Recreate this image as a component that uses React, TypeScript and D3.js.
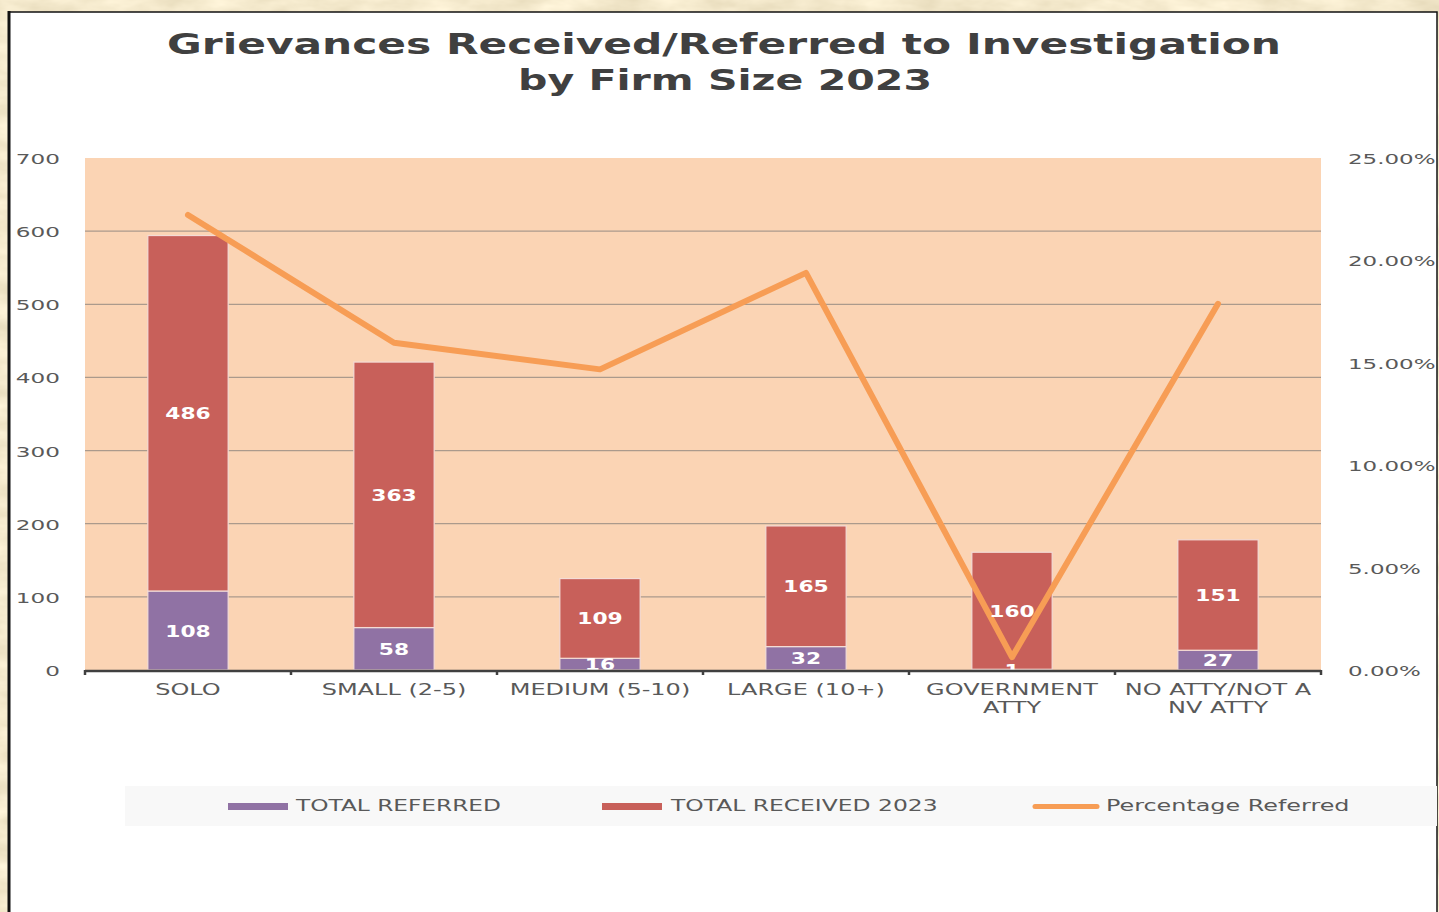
import React, { useEffect, useRef } from 'react';
import * as d3 from 'd3';

const categories = ['SOLO', 'SMALL (2-5)', 'MEDIUM (5-10)', 'LARGE (10+)', 'GOVERNMENT\nATTY', 'NO ATTY/NOT A\nNV ATTY'];
const totalReferred = [108, 58, 16, 32, 1, 27];
const totalReceived = [486, 363, 109, 165, 160, 151];
const percentReferred = [0.2222, 0.1598, 0.1468, 0.1939, 0.00625, 0.1788];
const leftTicks = [0, 100, 200, 300, 400, 500, 600, 700];
const rightTicks = [0, 0.05, 0.1, 0.15, 0.2, 0.25];
const legendItems = ['TOTAL REFERRED', 'TOTAL RECEIVED 2023', 'Percentage Referred'];

const W = 1439;
const H = 912;
const FONT = 'DejaVu Sans, Verdana, sans-serif';

// the reference font is a very wide face, so stretch DejaVu to match
function widen(sel: d3.Selection<SVGTextElement, any, any, any>, k: number) {
  sel.each(function () {
    const n = this.getComputedTextLength();
    this.setAttribute('textLength', String(n * k));
    this.setAttribute('lengthAdjust', 'spacingAndGlyphs');
  });
}

const GrievanceChart: React.FC = () => {
  const svgRef = useRef<SVGSVGElement | null>(null);

  useEffect(() => {
    const svg = d3.select(svgRef.current);
    svg.selectAll('*').remove();

    const plot = { left: 85, right: 1321, top: 158, bottom: 670 };

    // parchment background
    const defs = svg.append('defs');
    const f = defs.append('filter').attr('id', 'parch').attr('x', 0).attr('y', 0).attr('width', 1).attr('height', 1);
    f.append('feTurbulence').attr('type', 'fractalNoise').attr('baseFrequency', '0.02 0.05').attr('numOctaves', 4).attr('seed', 3);
    f.append('feColorMatrix').attr('type', 'matrix')
      .attr('values', '0.32 0 0 0 0.75  0.32 0 0 0 0.66  0.32 0 0 0 0.45  0 0 0 0 1');
    svg.append('rect').attr('width', W).attr('height', H).attr('fill', '#e6d09c').attr('filter', 'url(#parch)');

    // white panel
    svg.append('rect').attr('x', 9).attr('y', 12).attr('width', 1428).attr('height', H + 20)
      .attr('fill', '#ffffff').attr('stroke', '#111').attr('stroke-width', 1.5);
    svg.append('line').attr('x1', 9).attr('x2', 9).attr('y1', 11).attr('y2', H)
      .attr('stroke', '#111').attr('stroke-width', 3);

    // title
    const t1 = svg.append('text').attr('x', 724).attr('y', 54).attr('text-anchor', 'middle')
      .attr('font-family', FONT).attr('font-weight', 'bold').attr('font-size', 28).attr('fill', '#404040')
      .text('Grievances Received/Referred to Investigation');
    widen(t1, 1114 / (t1.node() as SVGTextElement).getComputedTextLength());
    const t2 = svg.append('text').attr('x', 725).attr('y', 90).attr('text-anchor', 'middle')
      .attr('font-family', FONT).attr('font-weight', 'bold').attr('font-size', 28).attr('fill', '#404040')
      .text('by Firm Size 2023');
    widen(t2, 414 / (t2.node() as SVGTextElement).getComputedTextLength());

    const x = d3.scaleBand<string>().domain(categories).range([plot.left, plot.right])
      .paddingInner(0.61).paddingOuter(0.305);
    const y = d3.scaleLinear().domain([0, 700]).range([plot.bottom, plot.top]);
    const y2 = d3.scaleLinear().domain([0, 0.25]).range([plot.bottom, plot.top]);

    // plot area
    svg.append('rect').attr('x', plot.left).attr('y', plot.top)
      .attr('width', plot.right - plot.left).attr('height', plot.bottom - plot.top).attr('fill', '#fbd4b4');

    svg.append('g').selectAll('line').data(leftTicks.slice(1, -1)).join('line')
      .attr('x1', plot.left).attr('x2', plot.right)
      .attr('y1', d => y(d)).attr('y2', d => y(d))
      .attr('stroke', '#ab9a8c').attr('stroke-width', 1.3);

    // stacked bars
    const rows = categories.map((c, i) => ({ cat: c, referred: totalReferred[i], received: totalReceived[i] }));
    const stack = d3.stack<any>().keys(['referred', 'received'])(rows);
    const colors: Record<string, string> = { referred: '#9072a4', received: '#c8605a' };

    const gBars = svg.append('g');
    stack.forEach(layer => {
      gBars.append('g').selectAll('rect').data(layer).join('rect')
        .attr('x', d => x(d.data.cat) as number)
        .attr('width', x.bandwidth())
        .attr('y', d => y(d[1]))
        .attr('height', d => y(d[0]) - y(d[1]))
        .attr('fill', colors[layer.key])
        .attr('stroke', '#f4dcd6').attr('stroke-width', 1.2);
    });

    // percentage line
    const line = d3.line<number>()
      .x((_, i) => (x(categories[i]) as number) + x.bandwidth() / 2)
      .y(d => y2(d));
    svg.append('path').datum(percentReferred).attr('d', line)
      .attr('fill', 'none').attr('stroke', '#f79d55').attr('stroke-width', 6)
      .attr('stroke-linejoin', 'round').attr('stroke-linecap', 'round');

    // data labels
    stack.forEach(layer => {
      const lbl = svg.append('g').selectAll('text').data(layer).join('text')
        .attr('x', d => (x(d.data.cat) as number) + x.bandwidth() / 2)
        .attr('y', d => (y(d[0]) + y(d[1])) / 2 + 1)
        .attr('text-anchor', 'middle').attr('dominant-baseline', 'central')
        .attr('font-family', FONT).attr('font-weight', 'bold').attr('font-size', 15).attr('fill', '#ffffff')
        .text(d => String(d[1] - d[0]));
      widen(lbl as any, 1.45);
    });

    // x axis
    svg.append('line').attr('x1', plot.left).attr('x2', plot.right)
      .attr('y1', plot.bottom + 1).attr('y2', plot.bottom + 1)
      .attr('stroke', '#404040').attr('stroke-width', 2.5);
    svg.append('g').selectAll('line').data(d3.range(categories.length + 1)).join('line')
      .attr('x1', i => plot.left + i * x.step()).attr('x2', i => plot.left + i * x.step())
      .attr('y1', plot.bottom).attr('y2', plot.bottom + 5)
      .attr('stroke', '#404040').attr('stroke-width', 2.5);

    const catG = svg.append('g');
    categories.forEach(c => {
      c.split('\n').forEach((part, j) => {
        const t = catG.append('text')
          .attr('x', (x(c) as number) + x.bandwidth() / 2)
          .attr('y', 690 + j * 18)
          .attr('text-anchor', 'middle').attr('dominant-baseline', 'central')
          .attr('font-family', FONT).attr('font-size', 15).attr('fill', '#595959')
          .text(part);
        widen(t, 1.6);
      });
    });

    // left axis labels
    const lt = svg.append('g').selectAll('text').data(leftTicks).join('text')
      .attr('x', 60).attr('y', d => y(d) + 1)
      .attr('text-anchor', 'end').attr('dominant-baseline', 'central')
      .attr('font-family', FONT).attr('font-size', 14).attr('fill', '#595959')
      .text(d => String(d));
    widen(lt as any, 1.65);

    // right axis labels
    const rt = svg.append('g').selectAll('text').data(rightTicks).join('text')
      .attr('x', 1348).attr('y', d => y2(d) + 1)
      .attr('text-anchor', 'start').attr('dominant-baseline', 'central')
      .attr('font-family', FONT).attr('font-size', 14).attr('fill', '#595959')
      .text(d => d3.format('.2%')(d));
    widen(rt as any, 1.64);

    // legend
    svg.append('rect').attr('x', 125).attr('y', 786).attr('width', 1312).attr('height', 40).attr('fill', '#f8f8f8');
    const swatchX = [228, 602, 1035];
    const textX = [296, 671, 1106];
    const textK = [1.55, 1.56, 1.59];
    const swatchColor = ['#9072a4', '#c8605a', '#f79d55'];
    legendItems.forEach((name, i) => {
      if (i < 2) {
        svg.append('rect').attr('x', swatchX[i]).attr('y', 803).attr('width', 60).attr('height', 7)
          .attr('fill', swatchColor[i]);
      } else {
        svg.append('line').attr('x1', swatchX[i]).attr('x2', swatchX[i] + 62).attr('y1', 806.5).attr('y2', 806.5)
          .attr('stroke', swatchColor[i]).attr('stroke-width', 5).attr('stroke-linecap', 'round');
      }
      const t = svg.append('text').attr('x', textX[i]).attr('y', 806)
        .attr('dominant-baseline', 'central')
        .attr('font-family', FONT).attr('font-size', 15).attr('fill', '#595959')
        .text(name);
      widen(t, textK[i]);
    });
  }, []);

  return (
    <svg ref={svgRef} width={W} height={H}
      style={{ position: 'absolute', left: 0, top: 0, display: 'block' }} />
  );
};

export default function App() {
  return <GrievanceChart />;
}
